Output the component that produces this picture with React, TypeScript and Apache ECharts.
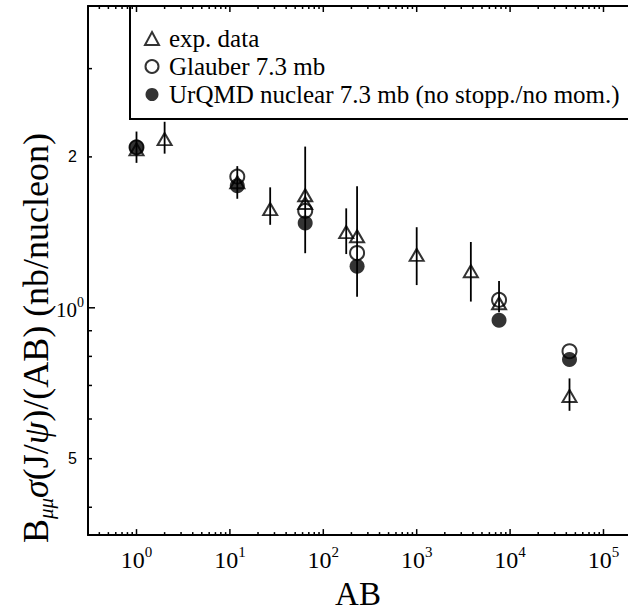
import React, { useEffect, useRef } from 'react';
import * as echarts from 'echarts';

// Axis ranges
const X_MIN = 0.3025;
const X_MAX = 183000;
const Y_MIN = 0.352;
const Y_MAX = 4.0;

// Experimental data: AB, value, error bar low / high
const expAB = [1, 2, 12, 27, 64, 64, 176, 230, 1000, 3800, 7616, 43264];
const expVal = [2.07, 2.17, 1.78, 1.573, 1.677, 1.618, 1.416, 1.389, 1.275, 1.183, 1.021, 0.667];
const expLow = [1.946, 2.03, 1.65, 1.464, 1.285, 1.618, 1.28, 1.052, 1.11, 1.029, 0.98, 0.623];
const expHigh = [2.247, 2.35, 1.917, 1.739, 2.097, 1.618, 1.579, 1.747, 1.448, 1.353, 1.131, 0.723];

// Glauber 7.3 mb
const glauberAB = [1, 12, 64, 230, 7616, 43264];
const glauberVal = [2.09, 1.827, 1.561, 1.286, 1.037, 0.819];

// UrQMD nuclear 7.3 mb
const urqmdAB = [1, 12, 64, 230, 7616, 43264];
const urqmdVal = [2.09, 1.752, 1.477, 1.21, 0.944, 0.789];

// Ticks
const xDecades = [0.1, 1, 10, 100, 1000, 10000, 100000];
const minorMultipliers = [2, 3, 4, 5, 6, 7, 8, 9];
const yMajorTicks = [1];
const yMinorTicks = [0.4, 0.5, 0.6, 0.7, 0.8, 0.9, 2, 3];

const SERIF = 'Liberation Serif';

export default function App() {
  const ref = useRef<HTMLDivElement>(null);

  useEffect(() => {
    if (!ref.current) return;
    const chart = echarts.init(ref.current, undefined, { renderer: 'svg' });

    const xTicks: number[][] = [];
    xDecades.forEach((d) => {
      if (d >= X_MIN && d <= X_MAX) xTicks.push([d, Y_MIN, 6]);
      minorMultipliers.forEach((m) => {
        const v = d * m;
        if (v >= X_MIN && v <= X_MAX) xTicks.push([v, Y_MIN, 3]);
      });
    });
    const yTicks: number[][] = [
      ...yMajorTicks.map((v) => [X_MIN, v, 7]),
      ...yMinorTicks.map((v) => [X_MIN, v, 4]),
    ];

    const xRich = {
      b: { fontSize: 24, fontFamily: SERIF, lineHeight: 28, verticalAlign: 'bottom', color: '#000' },
      s: { fontSize: 15, fontFamily: SERIF, lineHeight: 15, verticalAlign: 'top', color: '#000' },
    };
    const yRich = {
      b: { fontSize: 21, fontFamily: SERIF, lineHeight: 25, verticalAlign: 'bottom', color: '#000' },
      s: { fontSize: 14, fontFamily: SERIF, lineHeight: 14, verticalAlign: 'top', color: '#000' },
      n: { fontSize: 16, fontFamily: 'Liberation Sans', lineHeight: 25, color: '#000', padding: [0, 7, 0, 0] },
    };

    const option: any = {
      animation: false,
      backgroundColor: '#fff',
      grid: { left: 88, right: 0, top: 6, bottom: 69, containLabel: false },
      xAxis: [
        {
          type: 'log',
          logBase: 10,
          min: X_MIN,
          max: X_MAX,
          position: 'bottom',
          axisLine: { show: true, onZero: false, lineStyle: { color: '#000', width: 2 } },
          axisTick: { show: false },
          splitLine: { show: false },
          axisLabel: {
            showMinLabel: false,
            showMaxLabel: false,
            margin: 9,
            color: '#000',
            fontFamily: SERIF,
            fontSize: 24,
            formatter: (v: number) => `{b|10}{s|${Math.round(Math.log10(v))}}`,
            rich: xRich,
          },
          name: 'AB',
          nameLocation: 'middle',
          nameGap: 41,
          nameTextStyle: { fontFamily: SERIF, fontSize: 33, color: '#000' },
        },
        {
          type: 'log',
          logBase: 10,
          min: X_MIN,
          max: X_MAX,
          position: 'top',
          axisLine: { show: true, onZero: false, lineStyle: { color: '#000', width: 2 } },
          axisTick: { show: false },
          axisLabel: { show: false },
          splitLine: { show: false },
        },
      ],
      yAxis: {
        type: 'log',
        logBase: 2,
        min: Y_MIN,
        max: Y_MAX,
        axisLine: { show: true, onZero: false, lineStyle: { color: '#000', width: 2 } },
        axisTick: { show: false },
        splitLine: { show: false },
        axisLabel: {
          showMinLabel: false,
          showMaxLabel: false,
          margin: 4,
          color: '#000',
          fontFamily: SERIF,
          fontSize: 21,
          formatter: (v: number) => {
            if (Math.abs(v - 1) < 1e-6) return '{b|10}{s|0}';
            if (Math.abs(v - 2) < 1e-6) return '{n|2}';
            if (Math.abs(v - 0.5) < 1e-6) return '{n|5}';
            return '';
          },
          rich: yRich,
        },
      },
      legend: {
        show: true,
        orient: 'vertical',
        left: 130,
        top: 6,
        data: ['exp. data', 'Glauber 7.3 mb', 'UrQMD nuclear 7.3 mb (no stopp./no mom.)'],
        itemWidth: 14,
        itemHeight: 13,
        itemGap: 3,
        padding: [20, 40, 12, 14],
        borderColor: '#000',
        borderWidth: 2,
        borderRadius: 0,
        backgroundColor: '#fff',
        selectedMode: false,
        textStyle: { fontFamily: SERIF, fontSize: 25, color: '#000', padding: [0, 0, 0, 5] },
      },
      graphic: [
        {
          type: 'text',
          x: 36,
          y: 338,
          rotation: Math.PI / 2,
          style: {
            text: '{b|B}{s|μμ}{i|σ}{b|(J/}{i|ψ}{b|)/(AB) (nb/nucleon)}',
            align: 'center',
            verticalAlign: 'middle',
            fill: '#000',
            rich: {
              b: { fontSize: 36, fontFamily: SERIF, lineHeight: 40, verticalAlign: 'middle', fill: '#000' },
              i: { fontSize: 36, fontFamily: SERIF, fontStyle: 'italic', lineHeight: 40, verticalAlign: 'middle', fill: '#000' },
              s: { fontSize: 21, fontFamily: SERIF, fontStyle: 'italic', lineHeight: 21, verticalAlign: 'bottom', fill: '#000' },
            },
          },
        },
      ],
      series: [
        {
          name: 'exp-errors',
          type: 'custom',
          clip: false,
          silent: true,
          z: 2,
          encode: { x: 0, y: [1, 2] },
          data: expAB.map((ab, i) => [ab, expLow[i], expHigh[i]]),
          renderItem: (_p: any, api: any) => {
            const a = api.coord([api.value(0), api.value(1)]);
            const b = api.coord([api.value(0), api.value(2)]);
            return {
              type: 'line',
              shape: { x1: a[0], y1: a[1], x2: b[0], y2: b[1] },
              style: { stroke: '#000', lineWidth: 1.8 },
            };
          },
        },
        {
          name: 'exp. data',
          type: 'scatter',
          symbol: 'triangle',
          symbolSize: [14, 12],
          z: 3,
          silent: true,
          itemStyle: { color: 'rgba(0,0,0,0)', borderColor: '#000', borderWidth: 2 },
          data: expAB.map((ab, i) => [ab, expVal[i]]),
        },
        {
          name: 'Glauber 7.3 mb',
          type: 'scatter',
          symbol: 'circle',
          symbolSize: 14,
          z: 4,
          silent: true,
          itemStyle: { color: 'rgba(0,0,0,0)', borderColor: '#000', borderWidth: 2 },
          data: glauberAB.map((ab, i) => [ab, glauberVal[i]]),
        },
        {
          name: 'UrQMD nuclear 7.3 mb (no stopp./no mom.)',
          type: 'scatter',
          symbol: 'circle',
          symbolSize: 15,
          z: 5,
          silent: true,
          itemStyle: { color: '#000' },
          data: urqmdAB.map((ab, i) => [ab, urqmdVal[i]]),
        },
        {
          name: 'x-ticks',
          type: 'custom',
          clip: false,
          silent: true,
          z: 6,
          data: xTicks,
          encode: { x: 0, y: 1 },
          renderItem: (_p: any, api: any) => {
            const len = api.value(2);
            const b = api.coord([api.value(0), Y_MIN]);
            const t = api.coord([api.value(0), Y_MAX]);
            return {
              type: 'group',
              children: [
                { type: 'line', shape: { x1: b[0], y1: b[1], x2: b[0], y2: b[1] - len }, style: { stroke: '#000', lineWidth: 1.5 } },
                { type: 'line', shape: { x1: t[0], y1: t[1], x2: t[0], y2: t[1] + len }, style: { stroke: '#000', lineWidth: 1.5 } },
              ],
            };
          },
        },
        {
          name: 'y-ticks',
          type: 'custom',
          clip: false,
          silent: true,
          z: 6,
          data: yTicks,
          encode: { x: 0, y: 1 },
          renderItem: (_p: any, api: any) => {
            const len = api.value(2);
            const p = api.coord([X_MIN, api.value(1)]);
            return {
              type: 'line',
              shape: { x1: p[0], y1: p[1], x2: p[0] + len, y2: p[1] },
              style: { stroke: '#000', lineWidth: 1.5 },
            };
          },
        },
      ],
    };

    chart.setOption(option);
    return () => chart.dispose();
  }, []);

  return (
    <div
      ref={ref}
      style={{ position: 'fixed', left: 0, top: 0, width: 628, height: 615, background: '#fff' }}
    />
  );
}
